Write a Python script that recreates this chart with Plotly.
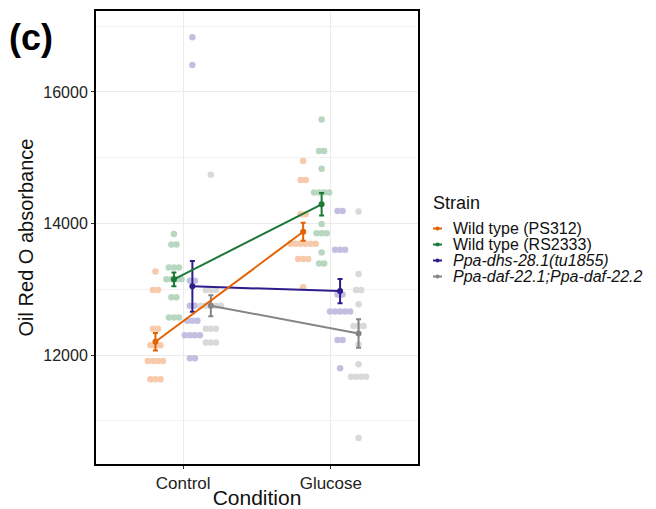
import numpy as np
import plotly.graph_objects as go

# ---------------- data ----------------
conditions = ["Control", "Glucose"]
strains = ["Wild type (PS312)", "Wild type (RS2333)",
           "<i>Ppa-dhs-28.1(tu1855)</i>", "<i>Ppa-daf-22.1;Ppa-daf-22.2</i>"]
line_colors = ["#E66101", "#1B7837", "#2E1C8C", "#858585"]
dot_colors = ["#F6CAAB", "#B8D7C0", "#C3BFE1", "#D9D9D9"]

control_ps312 = [13270, 12990, 12990, 12400, 12400, 12150, 12150, 12150,
                 11910, 11910, 11910, 11910, 11630, 11630, 11630]
control_rs2333 = [13840, 13680, 13680, 13330, 13330, 13330, 13150, 13150,
                  13150, 13150, 12880, 12880, 12570, 12570, 12570]
control_dhs = [16830, 16410, 13130, 13130, 12750, 12750, 12520, 12520, 12520,
               12300, 12300, 12300, 12300, 11950, 11950]
control_daf = [14740, 12990, 12990, 12990, 12750, 12750, 12750, 12750, 12750,
               12400, 12400, 12400, 12190, 12190, 12190]

glucose_ps312 = [14950, 14660, 14660, 14140, 14140, 13690, 13690, 13690,
                 13690, 13690, 13690, 13460, 13460, 13460, 13030]
glucose_rs2333 = [15580, 15100, 15100, 14830, 14470, 14470, 14470, 14470,
                  13990, 13850, 13850, 13850, 13560, 13390, 13390]
glucose_dhs = [14190, 14190, 13600, 13600, 13600, 12920, 12920, 12660, 12660,
               12660, 12660, 12660, 12230, 12230, 11800]
glucose_daf = [14180, 13230, 12990, 12990, 12770, 12440, 12440, 12440, 12160,
               11860, 11670, 11670, 11670, 11670, 10740]

data = [
    [control_ps312, glucose_ps312],
    [control_rs2333, glucose_rs2333],
    [control_dhs, glucose_dhs],
    [control_daf, glucose_daf],
]

y_ticks = [12000, 14000, 16000]
y_minor = [11000, 13000, 15000, 17000]

# ---------------- geometry ----------------
W, H = 656, 509
L, R, T, B = 96, 418, 11, 464
dodge = [-0.1875, -0.0625, 0.0625, 0.1875]
dot_dx = 0.034

def px_x(p):
    return (p - L) / (R - L)

def px_y(p):
    return (B - p) / (B - T)

fig = go.Figure()

# dot stacks
for s, name in enumerate(strains):
    xs, ys = [], []
    for c, vals in enumerate(data[s]):
        vals = np.array(vals)
        for v in np.unique(vals):
            n = int((vals == v).sum())
            for i in range(n):
                xs.append(c + 1 + dodge[s] + (i - (n - 1) / 2) * dot_dx)
                ys.append(v)
    fig.add_trace(go.Scatter(x=xs, y=ys, mode="markers",
                             marker=dict(size=6.5, color=dot_colors[s], line=dict(width=0)),
                             showlegend=False, hoverinfo="skip"))

# mean +/- se lines
for s in [3, 2, 1, 0]:
    means, ses, xs = [], [], []
    for c, vals in enumerate(data[s]):
        v = np.array(vals, dtype=float)
        means.append(v.mean())
        ses.append(v.std(ddof=1) / np.sqrt(len(v)))
        xs.append(c + 1 + dodge[s])
    fig.add_trace(go.Scatter(x=xs, y=means, mode="lines+markers",
                             line=dict(color=line_colors[s], width=2),
                             marker=dict(size=6, color=line_colors[s]),
                             error_y=dict(type="data", array=ses, color=line_colors[s],
                                          thickness=2, width=2.5),
                             showlegend=False, name=strains[s]))

# legend (manual, ggplot style)
ann = [dict(text="Strain", x=px_x(431), y=px_y(203), xref="paper", yref="paper",
            xanchor="left", yanchor="middle", showarrow=False,
            font=dict(size=18, color="#111"))]
shapes = []
leg_y = [228.5, 244.5, 260.5, 276.5]
for s, name in enumerate(strains):
    yy = px_y(leg_y[s])
    shapes.append(dict(type="line", xref="paper", yref="paper",
                       x0=px_x(433), x1=px_x(442), y0=yy, y1=yy,
                       line=dict(color=line_colors[s], width=2)))
    shapes.append(dict(type="circle", xref="paper", yref="paper",
                       x0=px_x(435.5), x1=px_x(439.5), y0=px_y(leg_y[s] + 2),
                       y1=px_y(leg_y[s] - 2), fillcolor=line_colors[s],
                       line=dict(width=0)))
    ann.append(dict(text=name, x=px_x(451), y=yy, xref="paper", yref="paper",
                    xanchor="left", yanchor="middle", showarrow=False,
                    font=dict(size=16, color="#111")))

ann.append(dict(text="<b>(c)</b>", x=px_x(7), y=px_y(38), xref="paper", yref="paper",
                xanchor="left", yanchor="middle", showarrow=False,
                font=dict(size=36, color="#000")))

fig.update_layout(
    width=W, height=H,
    margin=dict(l=L, r=W - R, t=T, b=H - B, pad=0),
    paper_bgcolor="white", plot_bgcolor="white",
    font=dict(family="Liberation Sans, Arial, sans-serif", color="#222"),
    showlegend=False,
    annotations=ann, shapes=shapes,
    xaxis=dict(range=[0.41, 2.59], tickvals=[1, 2], ticktext=conditions,
               showgrid=True, gridcolor="#EBEBEB", gridwidth=1, zeroline=False,
               ticks="outside", ticklen=3, tickcolor="#333", tickwidth=1,
               showline=True, linecolor="black", linewidth=2, mirror=True,
               tickfont=dict(size=17, color="#222"), automargin=False,
               title=dict(text="Condition", font=dict(size=21, color="#111"), standoff=0)),
    yaxis=dict(range=[10343, 17230], tickvals=y_ticks, ticktext=[str(v) for v in y_ticks],
               showgrid=True, gridcolor="#EBEBEB", gridwidth=1, zeroline=False,
               minor=dict(tickvals=y_minor, showgrid=True, gridcolor="#F2F2F2", gridwidth=1, ticks=""),
               ticks="outside", ticklen=3, tickcolor="#333", tickwidth=1,
               showline=True, linecolor="black", linewidth=2, mirror=True,
               tickfont=dict(size=16, color="#222"), automargin=False,
               title=dict(text="Oil Red O absorbance", font=dict(size=20, color="#111"), standoff=4)),
)

fig.write_html("out.html")
